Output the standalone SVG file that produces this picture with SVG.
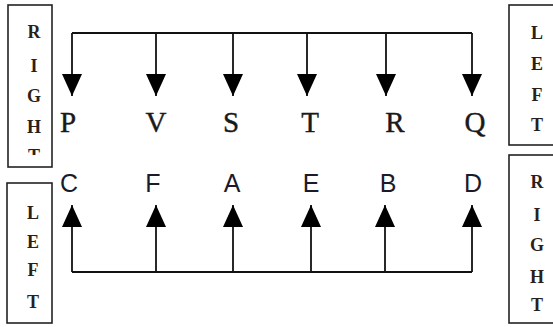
<svg xmlns="http://www.w3.org/2000/svg" width="553" height="327" viewBox="0 0 553 327">
<style>
.box{fill:#fff;stroke:#222;stroke-width:1.6}
.bl{font-family:"Liberation Serif",serif;font-size:18px;font-weight:bold;fill:#2a1f1a;text-anchor:middle}
.ts{font-family:"Liberation Serif",serif;font-size:29px;fill:#1a1a1a;stroke:#1a1a1a;stroke-width:0.4;text-anchor:middle}
.bs{font-family:"Liberation Sans",Arial,sans-serif;font-size:25px;fill:#1a1a2a;text-anchor:middle}
.c{fill:none;stroke:#111;stroke-width:1.8;marker-end:url(#ah)}
.h{fill:none;stroke:#111;stroke-width:1.8}
</style>
<defs>
<marker id="ah" markerUnits="userSpaceOnUse" viewBox="0 0 22 20" markerWidth="22" markerHeight="20" refX="22" refY="10" orient="auto">
<path d="M0,0 L22,10 L0,20 z" fill="#000"/>
</marker>
<clipPath id="clipTL"><rect x="8" y="5" width="44" height="150"/></clipPath>
</defs>
<g id="box-top-left">
<rect class="box" x="8" y="5" width="44" height="162"/>
<g clip-path="url(#clipTL)">
<text class="bl" x="34" y="38">R</text>
<text class="bl" x="34" y="72">I</text>
<text class="bl" x="34" y="102">G</text>
<text class="bl" x="34" y="133">H</text>
<text class="bl" x="34" y="162">T</text>
</g>
</g>
<g id="box-bottom-left">
<rect class="box" x="7" y="183" width="45" height="140"/>
<text class="bl" x="33" y="219">L</text>
<text class="bl" x="33" y="248">E</text>
<text class="bl" x="33" y="276">F</text>
<text class="bl" x="33" y="308">T</text>
</g>
<g id="box-top-right">
<rect class="box" x="509" y="5" width="50" height="140"/>
<text class="bl" x="537" y="39">L</text>
<text class="bl" x="537" y="70">E</text>
<text class="bl" x="537" y="101">F</text>
<text class="bl" x="537" y="131">T</text>
</g>
<g id="box-bottom-right">
<rect class="box" x="509" y="155" width="50" height="168"/>
<text class="bl" x="537" y="188">R</text>
<text class="bl" x="537" y="221">I</text>
<text class="bl" x="537" y="251">G</text>
<text class="bl" x="537" y="283">H</text>
<text class="bl" x="537" y="311">T</text>
</g>
<g id="top-row">
<text class="ts" x="68" y="132">P</text>
<text class="ts" x="156" y="132">V</text>
<text class="ts" x="231" y="132">S</text>
<text class="ts" x="310" y="132">T</text>
<text class="ts" x="395" y="132">R</text>
<text class="ts" x="475" y="132">Q</text>
</g>
<g id="bottom-row">
<text class="bs" x="69" y="192">C</text>
<text class="bs" x="153" y="192">F</text>
<text class="bs" x="232" y="192">A</text>
<text class="bs" x="311" y="192">E</text>
<text class="bs" x="388" y="192">B</text>
<text class="bs" x="473" y="192">D</text>
</g>
<g id="connectors">
<path class="h" d="M72,33 H472"/>
<path class="c" d="M72,33 V96"/>
<path class="c" d="M156,33 V96"/>
<path class="c" d="M233,33 V96"/>
<path class="c" d="M307,33 V96"/>
<path class="c" d="M386,33 V96"/>
<path class="c" d="M472,33 V96"/>
<path class="h" d="M72,272 H472"/>
<path class="c" d="M72,272 V205"/>
<path class="c" d="M156,272 V205"/>
<path class="c" d="M233,272 V205"/>
<path class="c" d="M311,272 V205"/>
<path class="c" d="M385,272 V205"/>
<path class="c" d="M472,272 V205"/>
</g>
</svg>
